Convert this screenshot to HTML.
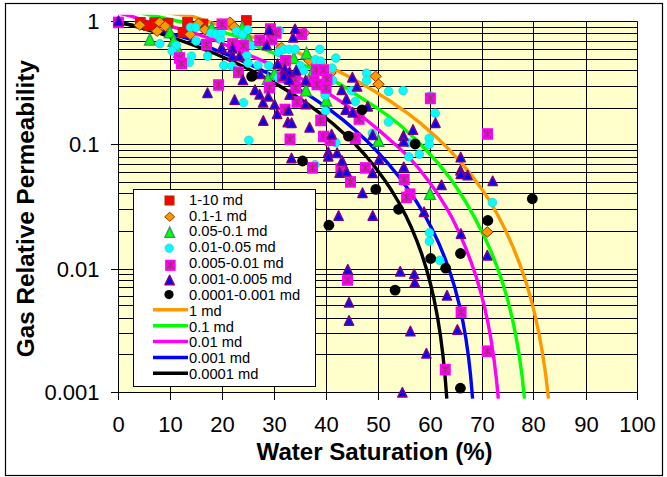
<!DOCTYPE html><html><head><meta charset="utf-8"><style>html,body{margin:0;padding:0;background:#fff;overflow:hidden;}svg{display:block}text{font-family:"Liberation Sans",Arial,sans-serif;}</style></head><body>
<svg width="667" height="477" viewBox="0 0 667 477">
<rect x="5.5" y="3.5" width="657" height="472" fill="#fff" stroke="#000" stroke-width="1.2"/>
<rect x="118.5" y="21.5" width="519" height="371" fill="#FFFFCC"/>
<path d="M118.5 27.5H637.5M118.5 33.5H637.5M118.5 41.5H637.5M118.5 49.5H637.5M118.5 59.5H637.5M118.5 70.5H637.5M118.5 86.5H637.5M118.5 108.5H637.5M118.5 150.5H637.5M118.5 157.5H637.5M118.5 164.5H637.5M118.5 172.5H637.5M118.5 182.5H637.5M118.5 193.5H637.5M118.5 209.5H637.5M118.5 231.5H637.5M118.5 274.5H637.5M118.5 280.5H637.5M118.5 287.5H637.5M118.5 296.5H637.5M118.5 305.5H637.5M118.5 318.5H637.5M118.5 333.5H637.5M118.5 354.5H637.5M111 144.5H637.5M111 269.5H637.5M170.5 21.5V400M222.5 21.5V400M274.5 21.5V400M326.5 21.5V400M378.5 21.5V400M430.5 21.5V400M482.5 21.5V400M533.5 21.5V400M586.5 21.5V400" stroke="#000" stroke-width="1" fill="none"/>
<path d="M118.5 21.5H637.5V392.5H118.5Z" fill="none" stroke="#000" stroke-width="1"/>
<path d="M111 21.5H118.5M111 392.5H118.5M118.5 392.5V400M637.5 392.5V400" stroke="#000" stroke-width="1"/>
<text x="118.5" y="432" font-size="22" text-anchor="middle">0</text>
<text x="170.5" y="432" font-size="22" text-anchor="middle">10</text>
<text x="222.5" y="432" font-size="22" text-anchor="middle">20</text>
<text x="274.5" y="432" font-size="22" text-anchor="middle">30</text>
<text x="326.5" y="432" font-size="22" text-anchor="middle">40</text>
<text x="378.5" y="432" font-size="22" text-anchor="middle">50</text>
<text x="430.5" y="432" font-size="22" text-anchor="middle">60</text>
<text x="482.5" y="432" font-size="22" text-anchor="middle">70</text>
<text x="533.5" y="432" font-size="22" text-anchor="middle">80</text>
<text x="586.5" y="432" font-size="22" text-anchor="middle">90</text>
<text x="637.5" y="432" font-size="22" text-anchor="middle">100</text>
<text x="99.5" y="29.0" font-size="22" text-anchor="end">1</text>
<text x="99.5" y="152.0" font-size="22" text-anchor="end">0.1</text>
<text x="99.5" y="277.0" font-size="22" text-anchor="end">0.01</text>
<text x="99.5" y="400.0" font-size="22" text-anchor="end">0.001</text>
<text x="374.6" y="460" font-size="24.1" font-weight="bold" text-anchor="middle">Water Saturation (%)</text>
<text transform="translate(33.5,208.6) rotate(-90)" font-size="24.3" font-weight="bold" text-anchor="middle">Gas Relative Permeability</text>
<defs><clipPath id="cp"><rect x="0" y="14.7" width="667" height="462"/></clipPath></defs>
<g clip-path="url(#cp)">
<path d="M118.5 22.8 L136.5 25.9 L154.5 29.6 L172.5 34.1 L190.0 39.2 L202.5 44.3 L215.0 49.8 L228.0 54.9 L240.5 60.3 L253.0 66.0 L278.0 78.2 L293.5 86.3 L307.5 94.4 L318.0 101.3 L330.0 109.8 L343.0 119.9 L355.5 130.5 L367.5 141.6 L377.5 151.8 L388.5 164.0 L398.5 176.2 L408.0 189.0 L417.0 202.5 L425.0 215.8 L432.5 229.9 L439.0 243.7 L445.0 258.3 L450.5 273.8 L455.0 288.3 L459.5 305.7 L463.0 322.1 L466.0 339.2 L468.5 356.9 L470.5 374.6 L472.6 398.6" fill="none" stroke="#0000FF" stroke-width="3.4" stroke-linejoin="round"/>
<path d="M118.5 21.8 L138.0 27.0 L157.5 32.7 L176.5 39.0 L195.0 45.6 L213.0 52.8 L230.0 60.2 L247.0 68.2 L263.0 76.5 L278.5 85.3 L293.0 94.2 L307.0 103.7 L320.5 113.6 L333.0 123.7 L345.0 134.4 L355.5 144.6 L365.5 155.5 L375.0 167.0 L383.5 178.4 L391.5 190.3 L398.5 202.0 L405.5 215.1 L411.5 227.8 L417.0 241.1 L422.0 254.9 L426.5 269.3 L430.5 284.0 L434.0 299.0 L437.5 317.1 L440.5 336.1 L443.0 355.8 L445.0 375.5 L446.8 398.6" fill="none" stroke="#000000" stroke-width="3.4" stroke-linejoin="round"/>
<path d="M118.5 13.2 L125.0 14.5 L132.0 16.3 L147.0 21.6 L165.0 24.7 L172.0 26.6 L194.0 33.1 L215.0 40.0 L240.0 51.3 L253.0 56.7 L265.5 62.1 L292.5 74.5 L304.5 80.3 L320.0 88.3 L328.0 93.2 L343.0 102.9 L357.5 113.2 L369.0 122.0 L380.0 131.1 L399.0 147.8 L410.0 158.3 L420.0 170.0 L429.5 182.2 L438.5 195.1 L446.5 207.9 L452.5 218.7 L459.5 233.3 L465.5 247.3 L471.0 261.8 L476.0 276.3 L480.5 291.3 L484.5 306.9 L488.0 323.0 L491.0 339.4 L494.0 359.2 L496.5 379.9 L498.3 398.6" fill="none" stroke="#FF00FF" stroke-width="3.4" stroke-linejoin="round"/>
<path d="M118.5 9.4 L141.0 13.0 L159.0 16.8 L177.0 21.0 L200.0 25.1 L215.0 29.4 L240.0 37.6 L258.0 46.8 L271.5 52.2 L285.0 58.1 L297.5 62.7 L310.0 67.6 L325.0 75.7 L340.0 84.3 L351.0 91.2 L376.0 107.4 L388.5 116.2 L400.0 125.0 L415.0 138.7 L426.5 150.3 L438.0 163.1 L449.5 177.4 L456.0 186.7 L465.5 201.5 L474.0 216.4 L484.0 235.9 L491.0 251.4 L497.0 266.6 L503.0 284.0 L508.0 301.1 L512.0 317.2 L515.5 333.9 L519.0 354.0 L522.0 375.5 L524.5 398.6" fill="none" stroke="#00FF00" stroke-width="3.4" stroke-linejoin="round"/>
<path d="M118.5 1.0 L143.0 6.8 L167.0 12.9 L192.5 16.4 L221.5 26.0 L250.0 36.3 L275.0 43.0 L294.5 51.1 L317.0 61.0 L337.0 70.5 L356.5 80.8 L374.0 90.9 L392.0 102.3 L408.5 113.9 L421.0 123.6 L436.0 136.7 L448.0 148.4 L460.0 161.4 L472.0 175.9 L482.0 189.4 L490.0 201.4 L498.0 215.5 L505.5 230.3 L513.0 246.9 L519.5 263.3 L525.5 280.6 L530.5 297.4 L535.0 315.1 L539.0 333.8 L542.5 353.3 L545.5 373.3 L548.5 398.6" fill="none" stroke="#FF9900" stroke-width="3.4" stroke-linejoin="round"/>
</g>
<rect x="135.45" y="17.45" width="9.70" height="9.70" fill="#FF0000" stroke="#993300" stroke-width="1"/>
<rect x="143.65" y="20.85" width="9.70" height="9.70" fill="#FF0000" stroke="#993300" stroke-width="1"/>
<rect x="149.85" y="17.75" width="9.70" height="9.70" fill="#FF0000" stroke="#993300" stroke-width="1"/>
<rect x="163.15" y="18.45" width="9.70" height="9.70" fill="#FF0000" stroke="#993300" stroke-width="1"/>
<rect x="182.75" y="17.55" width="9.70" height="9.70" fill="#FF0000" stroke="#993300" stroke-width="1"/>
<rect x="178.15" y="27.45" width="9.70" height="9.70" fill="#FF0000" stroke="#993300" stroke-width="1"/>
<rect x="198.15" y="19.15" width="9.70" height="9.70" fill="#FF0000" stroke="#993300" stroke-width="1"/>
<rect x="241.55" y="15.65" width="9.70" height="9.70" fill="#FF0000" stroke="#993300" stroke-width="1"/>
<path d="M487.30 226.80L493.10 232.00L487.30 237.20L481.50 232.00Z" fill="#FF9900" stroke="#993300" stroke-width="1"/>
<path d="M139.80 20.00L145.60 25.20L139.80 30.40L134.00 25.20Z" fill="#FF9900" stroke="#993300" stroke-width="1"/>
<path d="M157.20 26.00L163.00 31.20L157.20 36.40L151.40 31.20Z" fill="#FF9900" stroke="#993300" stroke-width="1"/>
<path d="M159.70 17.20L165.50 22.40L159.70 27.60L153.90 22.40Z" fill="#FF9900" stroke="#993300" stroke-width="1"/>
<path d="M165.30 21.00L171.10 26.20L165.30 31.40L159.50 26.20Z" fill="#FF9900" stroke="#993300" stroke-width="1"/>
<path d="M198.50 18.10L204.30 23.30L198.50 28.50L192.70 23.30Z" fill="#FF9900" stroke="#993300" stroke-width="1"/>
<path d="M190.20 29.30L196.00 34.50L190.20 39.70L184.40 34.50Z" fill="#FF9900" stroke="#993300" stroke-width="1"/>
<path d="M205.00 24.50L210.80 29.70L205.00 34.90L199.20 29.70Z" fill="#FF9900" stroke="#993300" stroke-width="1"/>
<path d="M229.90 17.00L235.70 22.20L229.90 27.40L224.10 22.20Z" fill="#FF9900" stroke="#993300" stroke-width="1"/>
<path d="M234.20 21.70L240.00 26.90L234.20 32.10L228.40 26.90Z" fill="#FF9900" stroke="#993300" stroke-width="1"/>
<path d="M304.00 27.80L309.80 33.00L304.00 38.20L298.20 33.00Z" fill="#FF9900" stroke="#993300" stroke-width="1"/>
<path d="M281.50 42.40L287.30 47.60L281.50 52.80L275.70 47.60Z" fill="#FF9900" stroke="#993300" stroke-width="1"/>
<path d="M375.60 71.10L381.40 76.30L375.60 81.50L369.80 76.30Z" fill="#FF9900" stroke="#993300" stroke-width="1"/>
<path d="M378.50 79.00L384.30 84.20L378.50 89.40L372.70 84.20Z" fill="#FF9900" stroke="#993300" stroke-width="1"/>
<path d="M309.50 55.40L315.30 60.60L309.50 65.80L303.70 60.60Z" fill="#FF9900" stroke="#993300" stroke-width="1"/>
<path d="M330.50 67.80L336.30 73.00L330.50 78.20L324.70 73.00Z" fill="#FF9900" stroke="#993300" stroke-width="1"/>
<path d="M430.00 187.80L435.50 199.40L424.50 199.40Z" fill="#00FF00" stroke="#339966" stroke-width="1.3"/>
<path d="M149.90 33.50L155.40 45.10L144.40 45.10Z" fill="#00FF00" stroke="#339966" stroke-width="1.3"/>
<path d="M169.80 26.20L175.30 37.80L164.30 37.80Z" fill="#00FF00" stroke="#339966" stroke-width="1.3"/>
<path d="M173.50 34.70L179.00 46.30L168.00 46.30Z" fill="#00FF00" stroke="#339966" stroke-width="1.3"/>
<path d="M211.70 22.00L217.20 33.60L206.20 33.60Z" fill="#00FF00" stroke="#339966" stroke-width="1.3"/>
<path d="M242.20 21.70L247.70 33.30L236.70 33.30Z" fill="#00FF00" stroke="#339966" stroke-width="1.3"/>
<path d="M248.50 32.70L254.00 44.30L243.00 44.30Z" fill="#00FF00" stroke="#339966" stroke-width="1.3"/>
<path d="M306.50 47.20L312.00 58.80L301.00 58.80Z" fill="#00FF00" stroke="#339966" stroke-width="1.3"/>
<path d="M293.80 52.00L299.30 63.60L288.30 63.60Z" fill="#00FF00" stroke="#339966" stroke-width="1.3"/>
<path d="M274.40 67.60L279.90 79.20L268.90 79.20Z" fill="#00FF00" stroke="#339966" stroke-width="1.3"/>
<path d="M267.80 72.80L273.30 84.40L262.30 84.40Z" fill="#00FF00" stroke="#339966" stroke-width="1.3"/>
<path d="M311.50 68.20L317.00 79.80L306.00 79.80Z" fill="#00FF00" stroke="#339966" stroke-width="1.3"/>
<path d="M326.30 94.40L331.80 106.00L320.80 106.00Z" fill="#00FF00" stroke="#339966" stroke-width="1.3"/>
<path d="M378.40 134.70L383.90 146.30L372.90 146.30Z" fill="#00FF00" stroke="#339966" stroke-width="1.3"/>
<path d="M179.00 45.70L184.50 57.30L173.50 57.30Z" fill="#00FF00" stroke="#339966" stroke-width="1.3"/>
<path d="M306.00 84.20L311.50 95.80L300.50 95.80Z" fill="#00FF00" stroke="#339966" stroke-width="1.3"/>
<circle cx="408.80" cy="156.70" r="4.30" fill="#00FFFF" stroke="#33CCCC" stroke-width="0.8"/>
<circle cx="419.30" cy="154.20" r="4.30" fill="#00FFFF" stroke="#33CCCC" stroke-width="0.8"/>
<circle cx="492.40" cy="202.50" r="4.30" fill="#00FFFF" stroke="#33CCCC" stroke-width="0.8"/>
<circle cx="429.40" cy="232.80" r="4.30" fill="#00FFFF" stroke="#33CCCC" stroke-width="0.8"/>
<circle cx="429.40" cy="241.20" r="4.30" fill="#00FFFF" stroke="#33CCCC" stroke-width="0.8"/>
<circle cx="439.70" cy="260.30" r="4.30" fill="#00FFFF" stroke="#33CCCC" stroke-width="0.8"/>
<circle cx="335.90" cy="142.60" r="4.30" fill="#00FFFF" stroke="#33CCCC" stroke-width="0.8"/>
<circle cx="372.30" cy="133.20" r="4.30" fill="#00FFFF" stroke="#33CCCC" stroke-width="0.8"/>
<circle cx="315.00" cy="164.70" r="4.30" fill="#00FFFF" stroke="#33CCCC" stroke-width="0.8"/>
<circle cx="159.80" cy="43.70" r="4.30" fill="#00FFFF" stroke="#33CCCC" stroke-width="0.8"/>
<circle cx="190.50" cy="27.30" r="4.30" fill="#00FFFF" stroke="#33CCCC" stroke-width="0.8"/>
<circle cx="195.70" cy="27.30" r="4.30" fill="#00FFFF" stroke="#33CCCC" stroke-width="0.8"/>
<circle cx="196.10" cy="41.00" r="4.30" fill="#00FFFF" stroke="#33CCCC" stroke-width="0.8"/>
<circle cx="211.20" cy="33.00" r="4.30" fill="#00FFFF" stroke="#33CCCC" stroke-width="0.8"/>
<circle cx="215.90" cy="34.00" r="4.30" fill="#00FFFF" stroke="#33CCCC" stroke-width="0.8"/>
<circle cx="220.70" cy="39.10" r="4.30" fill="#00FFFF" stroke="#33CCCC" stroke-width="0.8"/>
<circle cx="176.30" cy="45.30" r="4.30" fill="#00FFFF" stroke="#33CCCC" stroke-width="0.8"/>
<circle cx="172.10" cy="50.90" r="4.30" fill="#00FFFF" stroke="#33CCCC" stroke-width="0.8"/>
<circle cx="236.50" cy="31.10" r="4.30" fill="#00FFFF" stroke="#33CCCC" stroke-width="0.8"/>
<circle cx="242.60" cy="34.40" r="4.30" fill="#00FFFF" stroke="#33CCCC" stroke-width="0.8"/>
<circle cx="247.80" cy="29.70" r="4.30" fill="#00FFFF" stroke="#33CCCC" stroke-width="0.8"/>
<circle cx="221.40" cy="32.50" r="4.30" fill="#00FFFF" stroke="#33CCCC" stroke-width="0.8"/>
<circle cx="252.10" cy="45.70" r="4.30" fill="#00FFFF" stroke="#33CCCC" stroke-width="0.8"/>
<circle cx="279.40" cy="30.60" r="4.30" fill="#00FFFF" stroke="#33CCCC" stroke-width="0.8"/>
<circle cx="278.70" cy="52.20" r="4.30" fill="#00FFFF" stroke="#33CCCC" stroke-width="0.8"/>
<circle cx="283.90" cy="49.30" r="4.30" fill="#00FFFF" stroke="#33CCCC" stroke-width="0.8"/>
<circle cx="289.10" cy="49.30" r="4.30" fill="#00FFFF" stroke="#33CCCC" stroke-width="0.8"/>
<circle cx="295.20" cy="49.30" r="4.30" fill="#00FFFF" stroke="#33CCCC" stroke-width="0.8"/>
<circle cx="319.70" cy="49.30" r="4.30" fill="#00FFFF" stroke="#33CCCC" stroke-width="0.8"/>
<circle cx="315.50" cy="59.70" r="4.30" fill="#00FFFF" stroke="#33CCCC" stroke-width="0.8"/>
<circle cx="320.70" cy="61.10" r="4.30" fill="#00FFFF" stroke="#33CCCC" stroke-width="0.8"/>
<circle cx="268.80" cy="65.80" r="4.30" fill="#00FFFF" stroke="#33CCCC" stroke-width="0.8"/>
<circle cx="300.40" cy="65.80" r="4.30" fill="#00FFFF" stroke="#33CCCC" stroke-width="0.8"/>
<circle cx="303.70" cy="70.50" r="4.30" fill="#00FFFF" stroke="#33CCCC" stroke-width="0.8"/>
<circle cx="278.20" cy="77.60" r="4.30" fill="#00FFFF" stroke="#33CCCC" stroke-width="0.8"/>
<circle cx="335.80" cy="58.10" r="4.30" fill="#00FFFF" stroke="#33CCCC" stroke-width="0.8"/>
<circle cx="332.00" cy="68.10" r="4.30" fill="#00FFFF" stroke="#33CCCC" stroke-width="0.8"/>
<circle cx="332.60" cy="80.10" r="4.30" fill="#00FFFF" stroke="#33CCCC" stroke-width="0.8"/>
<circle cx="366.60" cy="73.20" r="4.30" fill="#00FFFF" stroke="#33CCCC" stroke-width="0.8"/>
<circle cx="366.60" cy="80.50" r="4.30" fill="#00FFFF" stroke="#33CCCC" stroke-width="0.8"/>
<circle cx="388.60" cy="91.40" r="4.30" fill="#00FFFF" stroke="#33CCCC" stroke-width="0.8"/>
<circle cx="351.50" cy="90.80" r="4.30" fill="#00FFFF" stroke="#33CCCC" stroke-width="0.8"/>
<circle cx="325.10" cy="95.20" r="4.30" fill="#00FFFF" stroke="#33CCCC" stroke-width="0.8"/>
<circle cx="355.30" cy="101.50" r="4.30" fill="#00FFFF" stroke="#33CCCC" stroke-width="0.8"/>
<circle cx="388.40" cy="122.00" r="4.30" fill="#00FFFF" stroke="#33CCCC" stroke-width="0.8"/>
<circle cx="408.60" cy="142.80" r="4.30" fill="#00FFFF" stroke="#33CCCC" stroke-width="0.8"/>
<circle cx="403.10" cy="90.60" r="4.30" fill="#00FFFF" stroke="#33CCCC" stroke-width="0.8"/>
<circle cx="430.50" cy="96.00" r="4.30" fill="#00FFFF" stroke="#33CCCC" stroke-width="0.8"/>
<circle cx="435.20" cy="113.20" r="4.30" fill="#00FFFF" stroke="#33CCCC" stroke-width="0.8"/>
<circle cx="429.20" cy="138.20" r="4.30" fill="#00FFFF" stroke="#33CCCC" stroke-width="0.8"/>
<circle cx="429.20" cy="144.30" r="4.30" fill="#00FFFF" stroke="#33CCCC" stroke-width="0.8"/>
<circle cx="191.50" cy="56.10" r="4.30" fill="#00FFFF" stroke="#33CCCC" stroke-width="0.8"/>
<circle cx="207.70" cy="56.10" r="4.30" fill="#00FFFF" stroke="#33CCCC" stroke-width="0.8"/>
<circle cx="189.20" cy="62.50" r="4.30" fill="#00FFFF" stroke="#33CCCC" stroke-width="0.8"/>
<circle cx="223.80" cy="65.40" r="4.30" fill="#00FFFF" stroke="#33CCCC" stroke-width="0.8"/>
<circle cx="231.90" cy="66.00" r="4.30" fill="#00FFFF" stroke="#33CCCC" stroke-width="0.8"/>
<circle cx="246.90" cy="55.60" r="4.30" fill="#00FFFF" stroke="#33CCCC" stroke-width="0.8"/>
<circle cx="248.00" cy="63.00" r="4.30" fill="#00FFFF" stroke="#33CCCC" stroke-width="0.8"/>
<circle cx="257.90" cy="65.20" r="4.30" fill="#00FFFF" stroke="#33CCCC" stroke-width="0.8"/>
<circle cx="243.50" cy="102.70" r="4.30" fill="#00FFFF" stroke="#33CCCC" stroke-width="0.8"/>
<circle cx="248.80" cy="140.30" r="4.30" fill="#00FFFF" stroke="#33CCCC" stroke-width="0.8"/>
<circle cx="325.40" cy="111.00" r="4.30" fill="#00FFFF" stroke="#33CCCC" stroke-width="0.8"/>
<rect x="342.00" y="274.20" width="11.00" height="11.60" fill="#FF00FF"/><path d="M343.70 276.20L351.30 283.80M351.30 276.20L343.70 283.80M347.50 275.80V284.20" stroke="#993366" stroke-width="1.2"/>
<rect x="455.60" y="306.40" width="11.00" height="11.60" fill="#FF00FF"/><path d="M457.30 308.40L464.90 316.00M464.90 308.40L457.30 316.00M461.10 308.00V316.40" stroke="#993366" stroke-width="1.2"/>
<rect x="481.80" y="345.40" width="11.00" height="11.60" fill="#FF00FF"/><path d="M483.50 347.40L491.10 355.00M491.10 347.40L483.50 355.00M487.30 347.00V355.40" stroke="#993366" stroke-width="1.2"/>
<rect x="439.80" y="363.80" width="11.00" height="11.60" fill="#FF00FF"/><path d="M441.50 365.80L449.10 373.40M449.10 365.80L441.50 373.40M445.30 365.40V373.80" stroke="#993366" stroke-width="1.2"/>
<rect x="398.70" y="173.60" width="11.00" height="11.60" fill="#FF00FF"/><path d="M400.40 175.60L408.00 183.20M408.00 175.60L400.40 183.20M404.20 175.20V183.60" stroke="#993366" stroke-width="1.2"/>
<rect x="404.50" y="188.40" width="11.00" height="11.60" fill="#FF00FF"/><path d="M406.20 190.40L413.80 198.00M413.80 190.40L406.20 198.00M410.00 190.00V198.40" stroke="#993366" stroke-width="1.2"/>
<rect x="401.10" y="191.60" width="11.00" height="11.60" fill="#FF00FF"/><path d="M402.80 193.60L410.40 201.20M410.40 193.60L402.80 201.20M406.60 193.20V201.60" stroke="#993366" stroke-width="1.2"/>
<rect x="315.20" y="114.60" width="11.00" height="11.60" fill="#FF00FF"/><path d="M316.90 116.60L324.50 124.20M324.50 116.60L316.90 124.20M320.70 116.20V124.60" stroke="#993366" stroke-width="1.2"/>
<rect x="353.60" y="113.20" width="11.00" height="11.60" fill="#FF00FF"/><path d="M355.30 115.20L362.90 122.80M362.90 115.20L355.30 122.80M359.10 114.80V123.20" stroke="#993366" stroke-width="1.2"/>
<rect x="318.00" y="130.70" width="11.00" height="11.60" fill="#FF00FF"/><path d="M319.70 132.70L327.30 140.30M327.30 132.70L319.70 140.30M323.50 132.30V140.70" stroke="#993366" stroke-width="1.2"/>
<rect x="324.60" y="134.50" width="11.00" height="11.60" fill="#FF00FF"/><path d="M326.30 136.50L333.90 144.10M333.90 136.50L326.30 144.10M330.10 136.10V144.50" stroke="#993366" stroke-width="1.2"/>
<rect x="349.80" y="132.50" width="11.00" height="11.60" fill="#FF00FF"/><path d="M351.50 134.50L359.10 142.10M359.10 134.50L351.50 142.10M355.30 134.10V142.50" stroke="#993366" stroke-width="1.2"/>
<rect x="307.00" y="162.10" width="11.00" height="11.60" fill="#FF00FF"/><path d="M308.70 164.10L316.30 171.70M316.30 164.10L308.70 171.70M312.50 163.70V172.10" stroke="#993366" stroke-width="1.2"/>
<rect x="335.40" y="163.30" width="11.00" height="11.60" fill="#FF00FF"/><path d="M337.10 165.30L344.70 172.90M344.70 165.30L337.10 172.90M340.90 164.90V173.30" stroke="#993366" stroke-width="1.2"/>
<rect x="345.00" y="176.10" width="11.00" height="11.60" fill="#FF00FF"/><path d="M346.70 178.10L354.30 185.70M354.30 178.10L346.70 185.70M350.50 177.70V186.10" stroke="#993366" stroke-width="1.2"/>
<rect x="359.90" y="162.10" width="11.00" height="11.60" fill="#FF00FF"/><path d="M361.60 164.10L369.20 171.70M369.20 164.10L361.60 171.70M365.40 163.70V172.10" stroke="#993366" stroke-width="1.2"/>
<rect x="112.90" y="16.60" width="11.00" height="11.60" fill="#FF00FF"/><path d="M114.60 18.60L122.20 26.20M122.20 18.60L114.60 26.20M118.40 18.20V26.60" stroke="#993366" stroke-width="1.2"/>
<rect x="201.00" y="38.80" width="11.00" height="11.60" fill="#FF00FF"/><path d="M202.70 40.80L210.30 48.40M210.30 40.80L202.70 48.40M206.50 40.40V48.80" stroke="#993366" stroke-width="1.2"/>
<rect x="216.50" y="18.40" width="11.00" height="11.60" fill="#FF00FF"/><path d="M218.20 20.40L225.80 28.00M225.80 20.40L218.20 28.00M222.00 20.00V28.40" stroke="#993366" stroke-width="1.2"/>
<rect x="227.20" y="38.10" width="11.00" height="11.60" fill="#FF00FF"/><path d="M228.90 40.10L236.50 47.70M236.50 40.10L228.90 47.70M232.70 39.70V48.10" stroke="#993366" stroke-width="1.2"/>
<rect x="237.90" y="40.00" width="11.00" height="11.60" fill="#FF00FF"/><path d="M239.60 42.00L247.20 49.60M247.20 42.00L239.60 49.60M243.40 41.60V50.00" stroke="#993366" stroke-width="1.2"/>
<rect x="254.30" y="34.50" width="11.00" height="11.60" fill="#FF00FF"/><path d="M256.00 36.50L263.60 44.10M263.60 36.50L256.00 44.10M259.80 36.10V44.50" stroke="#993366" stroke-width="1.2"/>
<rect x="265.00" y="23.20" width="11.00" height="11.60" fill="#FF00FF"/><path d="M266.70 25.20L274.30 32.80M274.30 25.20L266.70 32.80M270.50 24.80V33.20" stroke="#993366" stroke-width="1.2"/>
<rect x="266.10" y="33.70" width="11.00" height="11.60" fill="#FF00FF"/><path d="M267.80 35.70L275.40 43.30M275.40 35.70L267.80 43.30M271.60 35.30V43.70" stroke="#993366" stroke-width="1.2"/>
<rect x="270.50" y="27.20" width="11.00" height="11.60" fill="#FF00FF"/><path d="M272.20 29.20L279.80 36.80M279.80 29.20L272.20 36.80M276.00 28.80V37.20" stroke="#993366" stroke-width="1.2"/>
<rect x="296.10" y="28.40" width="11.00" height="11.60" fill="#FF00FF"/><path d="M297.80 30.40L305.40 38.00M305.40 30.40L297.80 38.00M301.60 30.00V38.40" stroke="#993366" stroke-width="1.2"/>
<rect x="280.00" y="54.90" width="11.00" height="11.60" fill="#FF00FF"/><path d="M281.70 56.90L289.30 64.50M289.30 56.90L281.70 64.50M285.50 56.50V64.90" stroke="#993366" stroke-width="1.2"/>
<rect x="310.90" y="64.10" width="11.00" height="11.60" fill="#FF00FF"/><path d="M312.60 66.10L320.20 73.70M320.20 66.10L312.60 73.70M316.40 65.70V74.10" stroke="#993366" stroke-width="1.2"/>
<rect x="318.00" y="64.30" width="11.00" height="11.60" fill="#FF00FF"/><path d="M319.70 66.30L327.30 73.90M327.30 66.30L319.70 73.90M323.50 65.90V74.30" stroke="#993366" stroke-width="1.2"/>
<rect x="289.70" y="73.70" width="11.00" height="11.60" fill="#FF00FF"/><path d="M291.40 75.70L299.00 83.30M299.00 75.70L291.40 83.30M295.20 75.30V83.70" stroke="#993366" stroke-width="1.2"/>
<rect x="308.50" y="75.10" width="11.00" height="11.60" fill="#FF00FF"/><path d="M310.20 77.10L317.80 84.70M317.80 77.10L310.20 84.70M314.00 76.70V85.10" stroke="#993366" stroke-width="1.2"/>
<rect x="321.50" y="73.70" width="11.00" height="11.60" fill="#FF00FF"/><path d="M323.20 75.70L330.80 83.30M330.80 75.70L323.20 83.30M327.00 75.30V83.70" stroke="#993366" stroke-width="1.2"/>
<rect x="320.50" y="82.20" width="11.00" height="11.60" fill="#FF00FF"/><path d="M322.20 84.20L329.80 91.80M329.80 84.20L322.20 91.80M326.00 83.80V92.20" stroke="#993366" stroke-width="1.2"/>
<rect x="311.50" y="78.70" width="11.00" height="11.60" fill="#FF00FF"/><path d="M313.20 80.70L320.80 88.30M320.80 80.70L313.20 88.30M317.00 80.30V88.70" stroke="#993366" stroke-width="1.2"/>
<rect x="424.90" y="92.60" width="11.00" height="11.60" fill="#FF00FF"/><path d="M426.60 94.60L434.20 102.20M434.20 94.60L426.60 102.20M430.40 94.20V102.60" stroke="#993366" stroke-width="1.2"/>
<rect x="482.00" y="128.20" width="11.00" height="11.60" fill="#FF00FF"/><path d="M483.70 130.20L491.30 137.80M491.30 130.20L483.70 137.80M487.50 129.80V138.20" stroke="#993366" stroke-width="1.2"/>
<rect x="174.00" y="52.20" width="11.00" height="11.60" fill="#FF00FF"/><path d="M175.70 54.20L183.30 61.80M183.30 54.20L175.70 61.80M179.50 53.80V62.20" stroke="#993366" stroke-width="1.2"/>
<rect x="176.00" y="57.70" width="11.00" height="11.60" fill="#FF00FF"/><path d="M177.70 59.70L185.30 67.30M185.30 59.70L177.70 67.30M181.50 59.30V67.70" stroke="#993366" stroke-width="1.2"/>
<rect x="233.00" y="66.50" width="11.00" height="11.60" fill="#FF00FF"/><path d="M234.70 68.50L242.30 76.10M242.30 68.50L234.70 76.10M238.50 68.10V76.50" stroke="#993366" stroke-width="1.2"/>
<rect x="213.10" y="79.20" width="11.00" height="11.60" fill="#FF00FF"/><path d="M214.80 81.20L222.40 88.80M222.40 81.20L214.80 88.80M218.60 80.80V89.20" stroke="#993366" stroke-width="1.2"/>
<rect x="263.90" y="81.80" width="11.00" height="11.60" fill="#FF00FF"/><path d="M265.60 83.80L273.20 91.40M273.20 83.80L265.60 91.40M269.40 83.40V91.80" stroke="#993366" stroke-width="1.2"/>
<rect x="277.00" y="71.20" width="11.00" height="11.60" fill="#FF00FF"/><path d="M278.70 73.20L286.30 80.80M286.30 73.20L278.70 80.80M282.50 72.80V81.20" stroke="#993366" stroke-width="1.2"/>
<rect x="290.20" y="82.20" width="11.00" height="11.60" fill="#FF00FF"/><path d="M291.90 84.20L299.50 91.80M299.50 84.20L291.90 91.80M295.70 83.80V92.20" stroke="#993366" stroke-width="1.2"/>
<rect x="291.60" y="96.20" width="11.00" height="11.60" fill="#FF00FF"/><path d="M293.30 98.20L300.90 105.80M300.90 98.20L293.30 105.80M297.10 97.80V106.20" stroke="#993366" stroke-width="1.2"/>
<rect x="279.50" y="103.70" width="11.00" height="11.60" fill="#FF00FF"/><path d="M281.20 105.70L288.80 113.30M288.80 105.70L281.20 113.30M285.00 105.30V113.70" stroke="#993366" stroke-width="1.2"/>
<rect x="284.50" y="133.50" width="11.00" height="11.60" fill="#FF00FF"/><path d="M286.20 135.50L293.80 143.10M293.80 135.50L286.20 143.10M290.00 135.10V143.50" stroke="#993366" stroke-width="1.2"/>
<path d="M349.00 297.60L353.60 307.00L344.40 307.00Z" fill="#0000FF" stroke="#800080" stroke-width="1.5" stroke-linejoin="round"/>
<path d="M349.00 315.80L353.60 325.20L344.40 325.20Z" fill="#0000FF" stroke="#800080" stroke-width="1.5" stroke-linejoin="round"/>
<path d="M414.80 277.50L419.40 286.90L410.20 286.90Z" fill="#0000FF" stroke="#800080" stroke-width="1.5" stroke-linejoin="round"/>
<path d="M410.40 326.40L415.00 335.80L405.80 335.80Z" fill="#0000FF" stroke="#800080" stroke-width="1.5" stroke-linejoin="round"/>
<path d="M402.40 387.70L407.00 397.10L397.80 397.10Z" fill="#0000FF" stroke="#800080" stroke-width="1.5" stroke-linejoin="round"/>
<path d="M447.00 290.60L451.60 300.00L442.40 300.00Z" fill="#0000FF" stroke="#800080" stroke-width="1.5" stroke-linejoin="round"/>
<path d="M457.40 324.80L462.00 334.20L452.80 334.20Z" fill="#0000FF" stroke="#800080" stroke-width="1.5" stroke-linejoin="round"/>
<path d="M426.40 348.70L431.00 358.10L421.80 358.10Z" fill="#0000FF" stroke="#800080" stroke-width="1.5" stroke-linejoin="round"/>
<path d="M460.70 152.40L465.30 161.80L456.10 161.80Z" fill="#0000FF" stroke="#800080" stroke-width="1.5" stroke-linejoin="round"/>
<path d="M460.50 165.50L465.10 174.90L455.90 174.90Z" fill="#0000FF" stroke="#800080" stroke-width="1.5" stroke-linejoin="round"/>
<path d="M460.80 169.00L465.40 178.40L456.20 178.40Z" fill="#0000FF" stroke="#800080" stroke-width="1.5" stroke-linejoin="round"/>
<path d="M467.60 170.40L472.20 179.80L463.00 179.80Z" fill="#0000FF" stroke="#800080" stroke-width="1.5" stroke-linejoin="round"/>
<path d="M492.70 176.20L497.30 185.60L488.10 185.60Z" fill="#0000FF" stroke="#800080" stroke-width="1.5" stroke-linejoin="round"/>
<path d="M403.80 162.20L408.40 171.60L399.20 171.60Z" fill="#0000FF" stroke="#800080" stroke-width="1.5" stroke-linejoin="round"/>
<path d="M441.50 180.20L446.10 189.60L436.90 189.60Z" fill="#0000FF" stroke="#800080" stroke-width="1.5" stroke-linejoin="round"/>
<path d="M424.00 207.00L428.60 216.40L419.40 216.40Z" fill="#0000FF" stroke="#800080" stroke-width="1.5" stroke-linejoin="round"/>
<path d="M460.90 228.90L465.50 238.30L456.30 238.30Z" fill="#0000FF" stroke="#800080" stroke-width="1.5" stroke-linejoin="round"/>
<path d="M400.20 266.70L404.80 276.10L395.60 276.10Z" fill="#0000FF" stroke="#800080" stroke-width="1.5" stroke-linejoin="round"/>
<path d="M414.20 269.20L418.80 278.60L409.60 278.60Z" fill="#0000FF" stroke="#800080" stroke-width="1.5" stroke-linejoin="round"/>
<path d="M338.60 210.90L343.20 220.30L334.00 220.30Z" fill="#0000FF" stroke="#800080" stroke-width="1.5" stroke-linejoin="round"/>
<path d="M372.70 210.90L377.30 220.30L368.10 220.30Z" fill="#0000FF" stroke="#800080" stroke-width="1.5" stroke-linejoin="round"/>
<path d="M347.80 264.60L352.40 274.00L343.20 274.00Z" fill="#0000FF" stroke="#800080" stroke-width="1.5" stroke-linejoin="round"/>
<path d="M372.60 168.10L377.20 177.50L368.00 177.50Z" fill="#0000FF" stroke="#800080" stroke-width="1.5" stroke-linejoin="round"/>
<path d="M309.60 122.50L314.20 131.90L305.00 131.90Z" fill="#0000FF" stroke="#800080" stroke-width="1.5" stroke-linejoin="round"/>
<path d="M331.60 129.50L336.20 138.90L327.00 138.90Z" fill="#0000FF" stroke="#800080" stroke-width="1.5" stroke-linejoin="round"/>
<path d="M372.70 130.10L377.30 139.50L368.10 139.50Z" fill="#0000FF" stroke="#800080" stroke-width="1.5" stroke-linejoin="round"/>
<path d="M328.30 147.10L332.90 156.50L323.70 156.50Z" fill="#0000FF" stroke="#800080" stroke-width="1.5" stroke-linejoin="round"/>
<path d="M337.10 148.00L341.70 157.40L332.50 157.40Z" fill="#0000FF" stroke="#800080" stroke-width="1.5" stroke-linejoin="round"/>
<path d="M328.30 151.50L332.90 160.90L323.70 160.90Z" fill="#0000FF" stroke="#800080" stroke-width="1.5" stroke-linejoin="round"/>
<path d="M342.10 155.90L346.70 165.30L337.50 165.30Z" fill="#0000FF" stroke="#800080" stroke-width="1.5" stroke-linejoin="round"/>
<path d="M339.60 167.90L344.20 177.30L335.00 177.30Z" fill="#0000FF" stroke="#800080" stroke-width="1.5" stroke-linejoin="round"/>
<path d="M346.50 166.60L351.10 176.00L341.90 176.00Z" fill="#0000FF" stroke="#800080" stroke-width="1.5" stroke-linejoin="round"/>
<path d="M118.50 16.00L123.10 25.40L113.90 25.40Z" fill="#0000FF" stroke="#800080" stroke-width="1.5" stroke-linejoin="round"/>
<path d="M221.60 42.60L226.20 52.00L217.00 52.00Z" fill="#0000FF" stroke="#800080" stroke-width="1.5" stroke-linejoin="round"/>
<path d="M269.10 25.20L273.70 34.60L264.50 34.60Z" fill="#0000FF" stroke="#800080" stroke-width="1.5" stroke-linejoin="round"/>
<path d="M266.70 40.30L271.30 49.70L262.10 49.70Z" fill="#0000FF" stroke="#800080" stroke-width="1.5" stroke-linejoin="round"/>
<path d="M232.30 43.50L236.90 52.90L227.70 52.90Z" fill="#0000FF" stroke="#800080" stroke-width="1.5" stroke-linejoin="round"/>
<path d="M295.00 24.20L299.60 33.60L290.40 33.60Z" fill="#0000FF" stroke="#800080" stroke-width="1.5" stroke-linejoin="round"/>
<path d="M293.10 32.70L297.70 42.10L288.50 42.10Z" fill="#0000FF" stroke="#800080" stroke-width="1.5" stroke-linejoin="round"/>
<path d="M277.70 59.00L282.30 68.40L273.10 68.40Z" fill="#0000FF" stroke="#800080" stroke-width="1.5" stroke-linejoin="round"/>
<path d="M284.80 64.10L289.40 73.50L280.20 73.50Z" fill="#0000FF" stroke="#800080" stroke-width="1.5" stroke-linejoin="round"/>
<path d="M289.50 67.00L294.10 76.40L284.90 76.40Z" fill="#0000FF" stroke="#800080" stroke-width="1.5" stroke-linejoin="round"/>
<path d="M296.10 65.50L300.70 74.90L291.50 74.90Z" fill="#0000FF" stroke="#800080" stroke-width="1.5" stroke-linejoin="round"/>
<path d="M283.90 70.70L288.50 80.10L279.30 80.10Z" fill="#0000FF" stroke="#800080" stroke-width="1.5" stroke-linejoin="round"/>
<path d="M289.10 74.50L293.70 83.90L284.50 83.90Z" fill="#0000FF" stroke="#800080" stroke-width="1.5" stroke-linejoin="round"/>
<path d="M305.60 75.50L310.20 84.90L301.00 84.90Z" fill="#0000FF" stroke="#800080" stroke-width="1.5" stroke-linejoin="round"/>
<path d="M352.40 72.50L357.00 81.90L347.80 81.90Z" fill="#0000FF" stroke="#800080" stroke-width="1.5" stroke-linejoin="round"/>
<path d="M357.10 81.70L361.70 91.10L352.50 91.10Z" fill="#0000FF" stroke="#800080" stroke-width="1.5" stroke-linejoin="round"/>
<path d="M341.70 85.10L346.30 94.50L337.10 94.50Z" fill="#0000FF" stroke="#800080" stroke-width="1.5" stroke-linejoin="round"/>
<path d="M346.40 94.20L351.00 103.60L341.80 103.60Z" fill="#0000FF" stroke="#800080" stroke-width="1.5" stroke-linejoin="round"/>
<path d="M367.70 101.50L372.30 110.90L363.10 110.90Z" fill="#0000FF" stroke="#800080" stroke-width="1.5" stroke-linejoin="round"/>
<path d="M345.70 104.80L350.30 114.20L341.10 114.20Z" fill="#0000FF" stroke="#800080" stroke-width="1.5" stroke-linejoin="round"/>
<path d="M352.60 107.60L357.20 117.00L348.00 117.00Z" fill="#0000FF" stroke="#800080" stroke-width="1.5" stroke-linejoin="round"/>
<path d="M413.00 124.90L417.60 134.30L408.40 134.30Z" fill="#0000FF" stroke="#800080" stroke-width="1.5" stroke-linejoin="round"/>
<path d="M403.50 130.90L408.10 140.30L398.90 140.30Z" fill="#0000FF" stroke="#800080" stroke-width="1.5" stroke-linejoin="round"/>
<path d="M403.50 136.50L408.10 145.90L398.90 145.90Z" fill="#0000FF" stroke="#800080" stroke-width="1.5" stroke-linejoin="round"/>
<path d="M435.50 118.00L440.10 127.40L430.90 127.40Z" fill="#0000FF" stroke="#800080" stroke-width="1.5" stroke-linejoin="round"/>
<path d="M232.50 51.00L237.10 60.40L227.90 60.40Z" fill="#0000FF" stroke="#800080" stroke-width="1.5" stroke-linejoin="round"/>
<path d="M239.40 51.20L244.00 60.60L234.80 60.60Z" fill="#0000FF" stroke="#800080" stroke-width="1.5" stroke-linejoin="round"/>
<path d="M242.90 75.10L247.50 84.50L238.30 84.50Z" fill="#0000FF" stroke="#800080" stroke-width="1.5" stroke-linejoin="round"/>
<path d="M207.50 88.00L212.10 97.40L202.90 97.40Z" fill="#0000FF" stroke="#800080" stroke-width="1.5" stroke-linejoin="round"/>
<path d="M260.20 69.20L264.80 78.60L255.60 78.60Z" fill="#0000FF" stroke="#800080" stroke-width="1.5" stroke-linejoin="round"/>
<path d="M255.00 85.00L259.60 94.40L250.40 94.40Z" fill="#0000FF" stroke="#800080" stroke-width="1.5" stroke-linejoin="round"/>
<path d="M259.60 89.60L264.20 99.00L255.00 99.00Z" fill="#0000FF" stroke="#800080" stroke-width="1.5" stroke-linejoin="round"/>
<path d="M268.30 91.60L272.90 101.00L263.70 101.00Z" fill="#0000FF" stroke="#800080" stroke-width="1.5" stroke-linejoin="round"/>
<path d="M263.10 97.70L267.70 107.10L258.50 107.10Z" fill="#0000FF" stroke="#800080" stroke-width="1.5" stroke-linejoin="round"/>
<path d="M274.60 99.70L279.20 109.10L270.00 109.10Z" fill="#0000FF" stroke="#800080" stroke-width="1.5" stroke-linejoin="round"/>
<path d="M289.60 89.90L294.20 99.30L285.00 99.30Z" fill="#0000FF" stroke="#800080" stroke-width="1.5" stroke-linejoin="round"/>
<path d="M305.70 99.40L310.30 108.80L301.10 108.80Z" fill="#0000FF" stroke="#800080" stroke-width="1.5" stroke-linejoin="round"/>
<path d="M288.40 105.70L293.00 115.10L283.80 115.10Z" fill="#0000FF" stroke="#800080" stroke-width="1.5" stroke-linejoin="round"/>
<path d="M277.10 109.00L281.70 118.40L272.50 118.40Z" fill="#0000FF" stroke="#800080" stroke-width="1.5" stroke-linejoin="round"/>
<path d="M263.30 115.80L267.90 125.20L258.70 125.20Z" fill="#0000FF" stroke="#800080" stroke-width="1.5" stroke-linejoin="round"/>
<path d="M287.80 117.30L292.40 126.70L283.20 126.70Z" fill="#0000FF" stroke="#800080" stroke-width="1.5" stroke-linejoin="round"/>
<path d="M291.60 118.00L296.20 127.40L287.00 127.40Z" fill="#0000FF" stroke="#800080" stroke-width="1.5" stroke-linejoin="round"/>
<path d="M234.60 94.90L239.20 104.30L230.00 104.30Z" fill="#0000FF" stroke="#800080" stroke-width="1.5" stroke-linejoin="round"/>
<path d="M291.50 153.30L296.10 162.70L286.90 162.70Z" fill="#0000FF" stroke="#800080" stroke-width="1.5" stroke-linejoin="round"/>
<path d="M379.00 154.50L383.60 163.90L374.40 163.90Z" fill="#0000FF" stroke="#800080" stroke-width="1.5" stroke-linejoin="round"/>
<path d="M362.50 188.00L367.10 197.40L357.90 197.40Z" fill="#0000FF" stroke="#800080" stroke-width="1.5" stroke-linejoin="round"/>
<path d="M311.50 200.00L316.10 209.40L306.90 209.40Z" fill="#0000FF" stroke="#800080" stroke-width="1.5" stroke-linejoin="round"/>
<path d="M487.30 250.50L491.90 259.90L482.70 259.90Z" fill="#0000FF" stroke="#800080" stroke-width="1.5" stroke-linejoin="round"/>
<circle cx="395.10" cy="290.10" r="5.40" fill="#000"/>
<circle cx="460.40" cy="388.20" r="5.40" fill="#000"/>
<circle cx="532.30" cy="198.80" r="5.40" fill="#000"/>
<circle cx="487.80" cy="220.50" r="5.40" fill="#000"/>
<circle cx="460.50" cy="253.50" r="5.40" fill="#000"/>
<circle cx="430.70" cy="258.50" r="5.40" fill="#000"/>
<circle cx="445.70" cy="268.20" r="5.40" fill="#000"/>
<circle cx="328.90" cy="225.20" r="5.40" fill="#000"/>
<circle cx="375.80" cy="189.40" r="5.40" fill="#000"/>
<circle cx="398.50" cy="209.30" r="5.40" fill="#000"/>
<circle cx="348.40" cy="136.10" r="5.40" fill="#000"/>
<circle cx="362.00" cy="109.80" r="5.40" fill="#000"/>
<circle cx="415.20" cy="144.00" r="5.40" fill="#000"/>
<circle cx="251.70" cy="76.40" r="5.40" fill="#000"/>
<circle cx="302.50" cy="161.00" r="5.40" fill="#000"/>
<rect x="133.5" y="189.5" width="182" height="197" fill="#fff" stroke="#000" stroke-width="1"/>
<rect x="164.99" y="195.99" width="9.02" height="9.02" fill="#FF0000" stroke="#993300" stroke-width="1"/>
<text x="189" y="204.70" font-size="14.7">1-10 md</text>
<path d="M169.70 212.33L174.69 216.80L169.70 221.27L164.71 216.80Z" fill="#FF9900" stroke="#993300" stroke-width="1"/>
<text x="189" y="220.55" font-size="14.7">0.1-1 md</text>
<path d="M169.70 226.98L174.65 237.42L164.75 237.42Z" fill="#00FF00" stroke="#339966" stroke-width="1.3"/>
<text x="189" y="236.40" font-size="14.7">0.05-0.1 md</text>
<circle cx="169.20" cy="248.20" r="4.17" fill="#00FFFF" stroke="#33CCCC" stroke-width="0.8"/>
<text x="189" y="252.25" font-size="14.7">0.01-0.05 md</text>
<rect x="165.12" y="259.73" width="10.56" height="11.14" fill="#FF00FF"/><path d="M166.75 261.65L174.05 268.95M174.05 261.65L166.75 268.95M170.40 261.25V269.35" stroke="#993366" stroke-width="1.2"/>
<text x="189" y="268.10" font-size="14.7">0.005-0.01 md</text>
<path d="M169.60 275.21L174.29 284.79L164.91 284.79Z" fill="#0000FF" stroke="#800080" stroke-width="1.5" stroke-linejoin="round"/>
<text x="189" y="283.95" font-size="14.7">0.001-0.005 md</text>
<circle cx="169.00" cy="294.60" r="4.59" fill="#000"/>
<text x="189" y="299.80" font-size="14.7">0.0001-0.001 md</text>
<path d="M153 309.85H188" stroke="#FF9900" stroke-width="3.5"/>
<text x="189" y="315.65" font-size="14.7">1 md</text>
<path d="M153 325.70H188" stroke="#00FF00" stroke-width="3.5"/>
<text x="189" y="331.50" font-size="14.7">0.1 md</text>
<path d="M153 341.55H188" stroke="#FF00FF" stroke-width="3.5"/>
<text x="189" y="347.35" font-size="14.7">0.01 md</text>
<path d="M153 357.40H188" stroke="#0000FF" stroke-width="3.5"/>
<text x="189" y="363.20" font-size="14.7">0.001 md</text>
<path d="M153 373.25H188" stroke="#000000" stroke-width="3.5"/>
<text x="189" y="379.05" font-size="14.7">0.0001 md</text>
</svg></body></html>
